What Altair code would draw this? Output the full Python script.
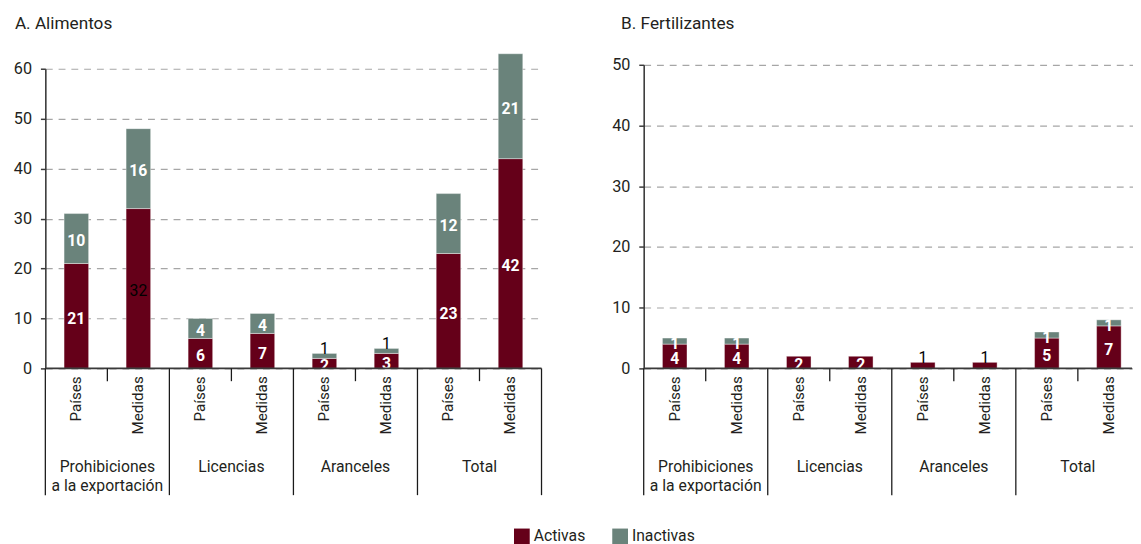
import altair as alt
import pandas as pd

FONT = "Roboto, Liberation Sans, sans-serif"
TEXT = "#231f20"
AXIS = "#3a3a3a"

# ---- data -------------------------------------------------------------
groups = ["Prohibiciones", "Licencias", "Aranceles", "Total"]
group_labels = ["Prohibiciones\na la exportación", "Licencias", "Aranceles", "Total"]
measures = ["Países", "Medidas"]
estados = ["Activas", "Inactivas"]
colors = ["#650019", "#6a837b"]

a_activas = [21, 32, 6, 7, 2, 3, 23, 42]
a_inactivas = [10, 16, 4, 4, 1, 1, 12, 21]
b_activas = [4, 4, 2, 2, 1, 1, 5, 7]
b_inactivas = [1, 1, 0, 0, 0, 0, 1, 1]

a_ticks = [0, 10, 20, 30, 40, 50, 60]
b_ticks = [0, 5, 10, 15, 20, 25, 30, 35, 40, 45, 50]

a_title = "A. Alimentos"
b_title = "B. Fertilizantes"

# labels drawn in dark regular type instead of white bold
dark_mid = [("A", "Prohibiciones", "Medidas", "Activas")]
dark_top = [("A", "Aranceles", "Países", "Inactivas"), ("A", "Aranceles", "Medidas", "Inactivas"),
            ("B", "Aranceles", "Países", "Activas"), ("B", "Aranceles", "Medidas", "Activas")]

keys = [f"{g} | {m}" for g in groups for m in measures]


def segments(pid, act, inact):
    rows = []
    for i, key in enumerate(keys):
        g = groups[i // 2]
        m = measures[i % 2]
        base = 0
        for est, v in zip(estados, (act[i], inact[i])):
            if v > 0:
                t = (pid, g, m, est)
                style = "dark_mid" if t in dark_mid else ("dark_top" if t in dark_top else "white")
                rows.append(dict(key=key, grp=g, meas=m, estado=est, value=v,
                                 y0=base, y1=base + v, mid=base + v / 2, style=style))
            base += v
    return pd.DataFrame(rows)


legend = alt.Legend(title=None, orient="none", legendX=477, legendY=472, direction="horizontal",
                    symbolType="square", symbolSize=256, symbolStrokeWidth=0,
                    labelFont=FONT, labelFontSize=16, labelColor=TEXT,
                    columnPadding=27, labelOffset=4)


def panel(df, W, H, ymax, ticks, title, tx, ty, y_top=0, x_range=None, right_edge=True):
    sc = dict(domain=keys, paddingInner=0, paddingOuter=0)
    if x_range is not None:
        sc["range"] = x_range
    xscale = alt.Scale(**sc)

    def X(bp=None):
        if bp is None:
            return alt.X("key:N", scale=xscale, axis=None, sort=keys)
        return alt.X("key:N", scale=xscale, axis=None, sort=keys, bandPosition=bp)

    yscale = alt.Scale(domain=[0, ymax], nice=False, zero=True, range=[H, y_top])
    yaxis = alt.Axis(values=ticks, title=None, grid=True, gridDash=[7, 6], gridColor="#a6a6a6",
                     gridWidth=1.2, domainColor=AXIS, domainWidth=1.6, tickColor=AXIS,
                     tickWidth=1.5, tickSize=5, labelFont=FONT, labelFontSize=16.5,
                     labelColor=TEXT, labelPadding=9, format="d")

    bars = alt.Chart(df).mark_bar(size=25, stroke="#ffffff", strokeWidth=0.8, strokeOpacity=0.5).encode(
        x=X(),
        y=alt.Y("y0:Q", scale=yscale, axis=yaxis),
        y2="y1:Q",
        color=alt.Color("estado:N", scale=alt.Scale(domain=estados, range=colors), legend=legend),
    )
    white = alt.Chart(df[df["style"] == "white"]).mark_text(
        font=FONT, fontSize=16, fontWeight="bold", color="white", baseline="middle", dy=3
    ).encode(x=X(), y=alt.Y("mid:Q", scale=yscale), text=alt.Text("value:Q", format="d"))
    layers = [bars, white]
    dm = df[df["style"] == "dark_mid"]
    if len(dm):
        layers.append(alt.Chart(dm).mark_text(
            font=FONT, fontSize=16, color="#000000", baseline="middle", dy=3
        ).encode(x=X(), y=alt.Y("mid:Q", scale=yscale), text=alt.Text("value:Q", format="d")))
    dt = df[df["style"] == "dark_top"]
    if len(dt):
        layers.append(alt.Chart(dt).mark_text(
            font=FONT, fontSize=16, color="#000000", baseline="alphabetic", dy=1
        ).encode(x=X(), y=alt.Y("y1:Q", scale=yscale), text=alt.Text("value:Q", format="d")))

    base = alt.Chart(pd.DataFrame({"v": [0]})).mark_rule(color=AXIS, strokeWidth=1.6).encode(
        y=alt.Y("v:Q", scale=yscale))
    layers.append(base)

    meas_df = pd.DataFrame({"key": keys, "meas": measures * len(groups)})
    layers.append(alt.Chart(meas_df).mark_text(
        angle=270, align="right", baseline="middle", font=FONT, fontSize=15.5, color=TEXT
    ).encode(x=X(), y=alt.value(H + 8), text="meas:N"))

    grp_df = pd.DataFrame({"key": keys[1::2], "label": group_labels})
    layers.append(alt.Chart(grp_df).mark_text(
        align="center", baseline="alphabetic", lineBreak="\n", lineHeight=20,
        font=FONT, fontSize=16, color=TEXT
    ).encode(x=X(0), y=alt.value(H + 105), text="label:N"))

    sep_df = pd.DataFrame({"key": keys[0::2]})
    layers.append(alt.Chart(sep_df).mark_rule(color="#1a1a1a", strokeWidth=1.3).encode(
        x=X(0), y=alt.value(H), y2=alt.value(H + 129)))
    if right_edge:
        layers.append(alt.Chart(pd.DataFrame({"key": [keys[-1]]})).mark_rule(
            color="#1a1a1a", strokeWidth=1.3).encode(x=X(1), y=alt.value(H), y2=alt.value(H + 129)))
    mid_df = pd.DataFrame({"key": keys[1::2]})
    layers.append(alt.Chart(mid_df).mark_rule(color="#1a1a1a", strokeWidth=1.3).encode(
        x=X(0), y=alt.value(H), y2=alt.value(H + 13)))

    layers.append(alt.Chart(pd.DataFrame({"t": [title]})).mark_text(
        align="left", baseline="alphabetic", font=FONT, fontSize=17.5, color=TEXT
    ).encode(x=alt.value(tx), y=alt.value(ty), text="t:N"))

    return alt.layer(*layers).properties(width=W, height=H)


dfa = segments("A", a_activas, a_inactivas)
dfb = segments("B", b_activas, b_inactivas)

pa = panel(dfa, 505, 309, 60, a_ticks, a_title, -31, -36, y_top=4)
pb = panel(dfb, 497, 309, 50, b_ticks, b_title, -23, -36, x_range=[0, 505], right_edge=False)

chart = alt.hconcat(pa, pb, spacing=70).resolve_scale(color="shared").configure_view(
    stroke=None).properties(padding={"left": 5, "top": 3, "right": 0, "bottom": 0}, background="white")

chart.save("out.html", embed_options={"renderer": "svg", "actions": False})
